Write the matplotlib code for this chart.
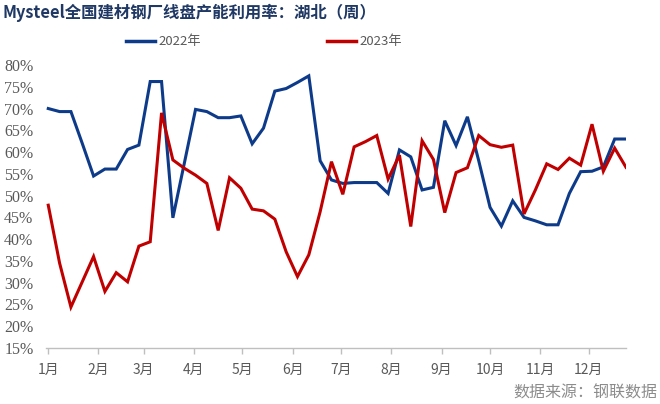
import matplotlib
matplotlib.use("Agg")
import matplotlib.pyplot as plt
from matplotlib.lines import Line2D

plt.rcParams['font.family'] = ['Noto Sans CJK SC', 'DejaVu Sans']

title = "Mysteel全国建材钢厂线盘产能利用率：湖北（周）"
source = "数据来源：钢联数据"
series_names = ["2022年", "2023年"]
month_labels = ["1月", "2月", "3月", "4月", "5月", "6月", "7月", "8月", "9月", "10月", "11月", "12月"]
month_start_day = [0, 31, 59, 90, 120, 151, 181, 212, 243, 273, 304, 334]

y2022 = [70.0, 69.3, 69.3, 62.0, 54.5, 56.1, 56.1, 60.6, 61.6, 76.2,
         76.2, 44.9, 57.3, 69.8, 69.3, 67.9, 67.9, 68.3, 61.9, 65.5,
         74.0, 74.6, 76.0, 77.5, 58.0, 53.6, 52.8, 53.0, 53.0, 53.0,
         50.5, 60.5, 58.9, 51.3, 51.9, 67.2, 61.5, 68.1, 58.0, 47.3,
         43.0, 48.8, 45.0, 44.2, 43.3, 43.3, 50.5, 55.5, 55.6, 56.6,
         63.0, 63.0]
y2023 = [47.8, 34.5, 24.4, 30.2, 36.0, 28.0, 32.3, 30.2, 38.4, 39.4,
         69.0, 58.2, 56.3, 54.7, 52.8, 42.0, 54.1, 51.7, 46.9, 46.5,
         44.6, 37.1, 31.4, 36.4, 46.3, 57.8, 50.3, 61.2, 62.4, 63.8,
         53.8, 59.3, 42.9, 62.6, 58.3, 46.1, 55.3, 56.4, 63.8, 61.7,
         61.1, 61.6, 45.8, 51.3, 57.3, 56.0, 58.6, 57.0, 66.4, 55.6,
         60.9, 56.5]
yticks = list(range(15, 81, 5))

blue = "#0D3B8A"
red = "#C00000"
gray_txt = "#595959"

fig = plt.figure(figsize=(6.6, 4.04), dpi=100)
ax = fig.add_axes([46/660, 1-348/404, (626-46)/660, (348-65)/404])

weeks = list(range(len(y2022)))
ax.plot(weeks, y2022, color=blue, lw=2.2, solid_joinstyle='miter')
ax.plot(list(range(len(y2023))), y2023, color=red, lw=2.2, solid_joinstyle='miter')

ax.set_xlim(-0.2, 51)
ax.set_ylim(15, 80)
ax.set_yticks(yticks)
ax.set_yticklabels([f"{v}%" for v in yticks])
ax.set_xticks([d/7 for d in month_start_day])
ax.set_xticklabels(month_labels, fontsize=10, color=gray_txt)
ax.tick_params(axis='y', length=0, pad=9, labelsize=11.5, labelcolor=gray_txt)
ax.tick_params(axis='x', length=4, color="#BFBFBF", width=1, pad=7)
for s in ['top', 'right', 'left']:
    ax.spines[s].set_visible(False)
ax.spines['bottom'].set_color("#BFBFBF")
ax.spines['bottom'].set_linewidth(1)

fig.text(3/660, 1-13/404, title, fontsize=11.8, fontweight='bold', color="#1F3864",
         ha='left', va='center')

handles = [Line2D([], [], color=blue, lw=2.5), Line2D([], [], color=red, lw=2.5)]
fig.legend(handles, series_names, loc='center', bbox_to_anchor=(264/660, 1-42/404),
           ncol=2, frameon=False, fontsize=9.5, handlelength=2.2, handletextpad=0.3,
           columnspacing=9.5, labelcolor=gray_txt)

fig.text(657/660, 1-393/404, source, fontsize=11.5, color="#8C8C8C", ha='right', va='center')

fig.canvas.draw()
for t in ax.get_yticklabels():
    t.set_fontfamily(['Liberation Serif', 'DejaVu Serif'])

fig.savefig("out.png", dpi=100)
